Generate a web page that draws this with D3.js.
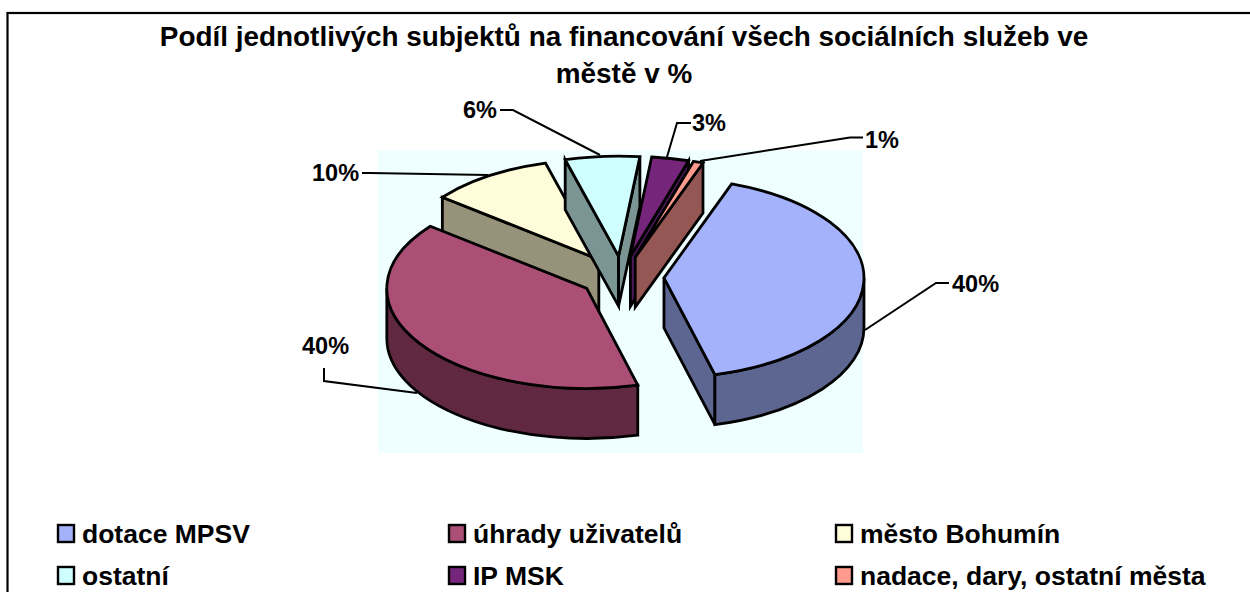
<!DOCTYPE html>
<html lang="en">
<head>
    <meta charset="UTF-8">
    <title>Podíl subjektů</title>
    <script src="https://cdn.jsdelivr.net/npm/d3@7"></script>
    <style>
        html, body { margin: 0; background: #fff; }
        svg { display: block; }
        text { font-family: "Liberation Sans", Arial, sans-serif; font-weight: bold; fill: #000; }
        .title { font-size: 27.9px; text-anchor: middle; }
        .label { font-size: 23.5px; }
        .legend { font-size: 26.5px; }
        .leader { fill: none; stroke: #000; stroke-width: 2px; }
        .face { stroke: #000; stroke-width: 2.8px; stroke-linejoin: miter; }
    </style>
</head>
<body>
<script>
    // data, slice angles show the shares are not exact whole numbers
    const categories = ["dotace MPSV", "úhrady uživatelů", "město Bohumín", "ostatní", "IP MSK", "nadace, dary, ostatní města"];
    const shares = [40.4, 39.8, 10, 6, 3, 0.8];
    const topColors = ["#a4b2fb", "#ab4f77", "#fffdd9", "#cffeff", "#76267a", "#ff9a8e"];
    const wallColors = ["#5c6691", "#612841", "#97937a", "#7b9595", "#4c1a5a", "#955753"];
    const titleLines = ["Podíl jednotlivých subjektů na financování všech sociálních služeb ve", "městě v %"];

    // layout
    const width = 1250, height = 592;
    const cx = 622, cy = 277, rx = 200, ry = 100, depth = 50, explode = 0.21;
    const firstAngle = 19.8 * Math.PI / 180;
    const drawOrder = [2, 3, 4, 5, 0, 1];   // back to front
    const labelPos = [[952, 292], [302, 354], [312, 181], [463, 118], [692, 131], [865, 148]];
    const leaders = [
        [[949, 283], [936, 283], [865, 330]],
        [[324, 368], [324, 381], [417, 393]],
        [[362, 173], [370, 173], [488, 175]],
        [[500, 110], [513, 110], [600, 155]],
        [[691, 123], [677, 123], [667, 157]],
        [[863, 137.5], [850, 137.5], [700, 161]]
    ];
    const legendCols = [57, 448, 835], legendRows = [524, 566];

    const svg = d3.select("body").append("svg").attr("width", width).attr("height", height);

    svg.append("rect").attr("x", 0).attr("y", 0).attr("width", width).attr("height", height).attr("fill", "#fff");
    // frame runs off the picture on the right and bottom
    svg.append("rect").attr("x", 7.5).attr("y", 13).attr("width", width + 20).attr("height", height + 20)
        .attr("fill", "#fff").attr("stroke", "#000").attr("stroke-width", 2.2);

    svg.selectAll(".title").data(titleLines).join("text")
        .attr("class", "title")
        .attr("x", 624)
        .attr("y", (d, i) => 46 + i * 37)
        .text(d => d);

    // plot area
    svg.append("rect").attr("x", 378).attr("y", 150).attr("width", 485).attr("height", 303).attr("fill", "#efffff");

    const line = d3.line();
    svg.selectAll(".leader").data(leaders).join("path")
        .attr("class", "leader")
        .attr("d", d => line(d));

    const slices = d3.pie().sort(null).startAngle(firstAngle).endAngle(firstAngle + 2 * Math.PI)(shares);

    // angle is clockwise from the top, r is in units of the pie radius
    const project = (angle, r, o) => [o[0] + rx * r * Math.sin(angle), o[1] - ry * r * Math.cos(angle)];
    const down = p => [p[0], p[1] + depth];
    const arcTo = (p, large, sweep) => `A${rx},${ry} 0 ${large} ${sweep} ${p[0]},${p[1]}`;

    function wall(apex, angle) {
        return line([apex, project(angle, 1, apex), down(project(angle, 1, apex)), down(apex)]) + "Z";
    }

    const group = svg.selectAll(".slice").data(drawOrder).join("g").attr("class", "slice");

    group.each(function (i) {
        const s = slices[i], g = d3.select(this);
        const mid = (s.startAngle + s.endAngle) / 2;
        const apex = project(mid, explode, [cx, cy]);
        const walls = [];

        // radial walls that face the viewer
        if (Math.sin(s.startAngle) < 0) walls.push(wall(apex, s.startAngle));
        if (Math.sin(s.endAngle) > 0) walls.push(wall(apex, s.endAngle));

        // outer wall, only the front half of the rim can show
        const a0 = Math.max(s.startAngle, Math.PI / 2), a1 = Math.min(s.endAngle, 1.5 * Math.PI);
        if (a1 > a0) {
            const p0 = project(a0, 1, apex), p1 = project(a1, 1, apex);
            walls.push(`M${p0}` + arcTo(p1, 0, 1) + `L${down(p1)}` + arcTo(down(p0), 0, 0) + "Z");
        }
        g.selectAll(".wall").data(walls).join("path")
            .attr("class", "wall face")
            .attr("fill", wallColors[i])
            .attr("d", d => d);

        const p0 = project(s.startAngle, 1, apex), p1 = project(s.endAngle, 1, apex);
        g.append("path")
            .attr("class", "face")
            .attr("fill", topColors[i])
            .attr("d", `M${apex}L${p0}` + arcTo(p1, s.endAngle - s.startAngle > Math.PI ? 1 : 0, 1) + "Z");
    });

    svg.selectAll(".label").data(shares).join("text")
        .attr("class", "label")
        .attr("x", (d, i) => labelPos[i][0])
        .attr("y", (d, i) => labelPos[i][1])
        .text(d => Math.round(d) + "%");

    const legend = svg.selectAll(".key").data(categories).join("g")
        .attr("class", "key")
        .attr("transform", (d, i) => `translate(${legendCols[i % 3]},${legendRows[Math.floor(i / 3)]})`);
    legend.append("rect")
        .attr("x", 1).attr("y", 1).attr("width", 16).attr("height", 17)
        .attr("fill", (d, i) => topColors[i])
        .attr("stroke", "#000").attr("stroke-width", 2.4);
    legend.append("text")
        .attr("class", "legend")
        .attr("x", 25).attr("y", 19)
        .text(d => d);
</script>
</body>
</html>
